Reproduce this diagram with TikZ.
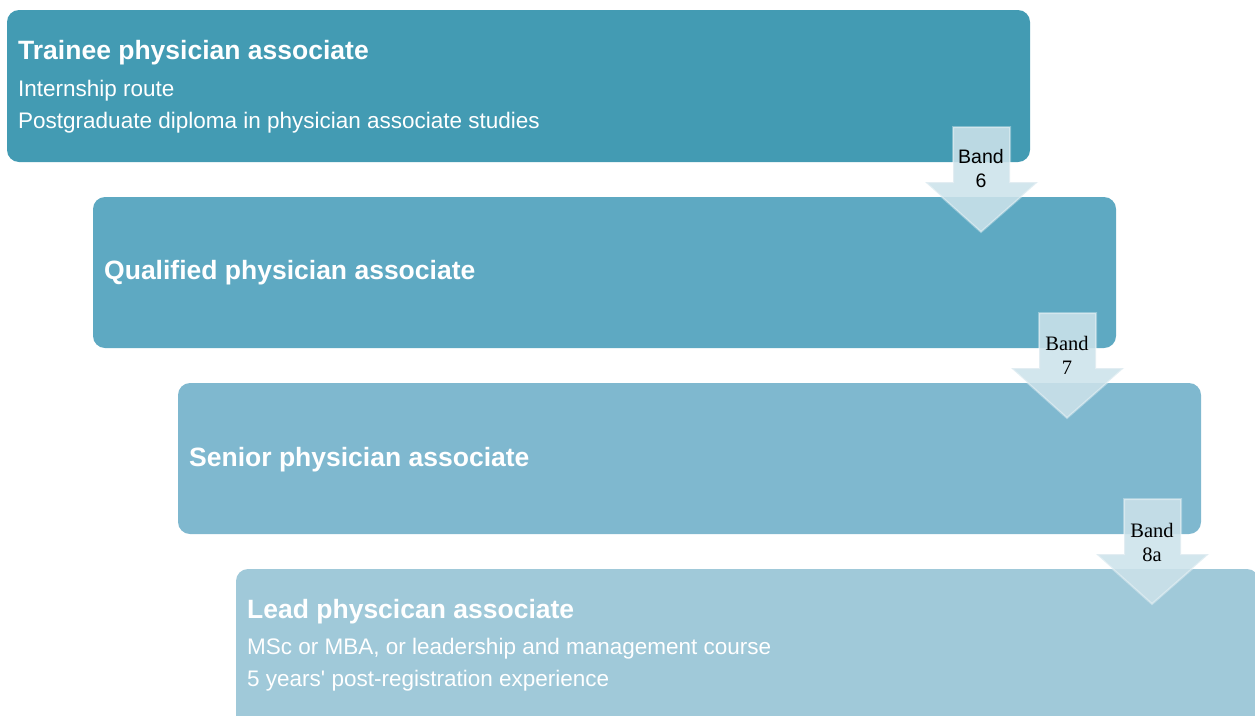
\documentclass[tikz,border=0pt]{standalone}
\usepackage{fontspec}
\setmainfont{Liberation Sans}
\newfontfamily\bandserif{Liberation Serif}
\definecolor{boxA}{RGB}{67,155,179}
\definecolor{boxB}{RGB}{94,169,194}
\definecolor{boxC}{RGB}{127,184,207}
\definecolor{boxD}{RGB}{160,201,217}
\definecolor{arrowfill}{RGB}{204,226,234}
\tikzset{
  stagebox/.style={rounded corners=12pt},
  bandarrow/.style={fill=arrowfill,fill opacity=0.88,draw=white,draw opacity=0.35,line width=2pt,line join=miter},
  titletext/.style={anchor=west,inner sep=0pt,text=white,font=\fontsize{26.5}{29}\selectfont\bfseries},
  linetext/.style={anchor=west,inner sep=0pt,text=white,font=\fontsize{22.5}{25}\selectfont},
  bandtext/.style={align=center,inner sep=0pt,text=black,font=\fontsize{19.5}{24}\selectfont},
  bandtextserif/.style={bandtext,font=\bandserif\fontsize{20.5}{24}\selectfont},
}
\begin{document}
\begin{tikzpicture}[x=1pt,y=-1pt]
\useasboundingbox (0,0) rectangle (1255,715);
\clip (0,0) rectangle (1255,715);
% stage boxes
\fill[boxA,stagebox] (7,10) rectangle (1030,162);
\fill[boxB,stagebox] (93,197) rectangle (1116,348);
\fill[boxC,stagebox] (178,383) rectangle (1201,534);
\fill[boxD,stagebox] (236,569) rectangle (1259,730);
% texts
\node[titletext] (t1) at (18,53) {Trainee physician associate};
\node[linetext] (t1a) at (18,91) {Internship route};
\node[linetext] (t1b) at (18,123) {Postgraduate diploma in physician associate studies};
\node[titletext] (t2) at (104,273) {Qualified physician associate};
\node[titletext] (t3) at (189,460) {Senior physician associate};
\node[titletext] (t4) at (247,612) {Lead physcican associate};
\node[linetext] (t4a) at (247,649) {MSc or MBA, or leadership and management course};
\node[linetext] (t4b) at (247,681) {5 years\textquotesingle{} post-registration experience};
% band arrows
\foreach \dx/\dy [count=\i] in {0/0,86/186,171/372}{
  \begin{scope}[shift={(\dx,\dy)}]
    \path[bandarrow] (953,127) -- (1010,127) -- (1010,182) -- (1038,182) -- (981,232) -- (925,182) -- (953,182) -- cycle;
  \end{scope}
}
\node[bandtext] (b1) at (981,169) {Band\\6};
\node[bandtextserif] (b2) at (1067,355) {Band\\7};
\node[bandtextserif] (b3) at (1152,542) {Band\\8a};
\end{tikzpicture}
\end{document}
